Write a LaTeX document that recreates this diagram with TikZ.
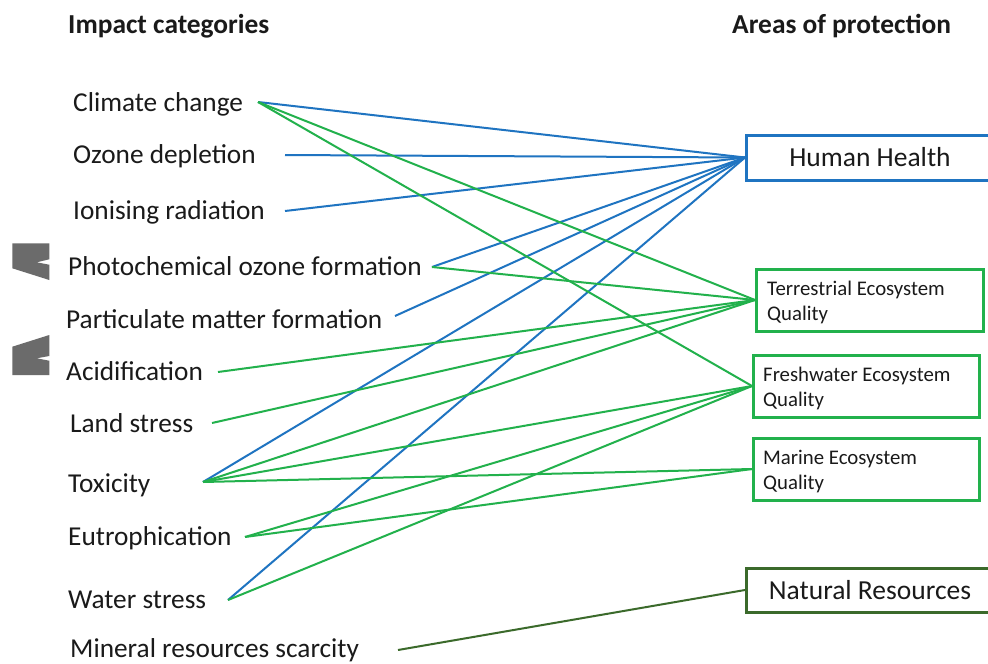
\documentclass[tikz,border=0pt]{standalone}
\usepackage{fontspec}
\setmainfont{Carlito}
\definecolor{lblue}{HTML}{1F74C1}
\definecolor{lgreen}{HTML}{22B14C}
\definecolor{dgreen}{HTML}{3B6A2B}
\definecolor{gshape}{HTML}{6B6B6B}
\definecolor{txt}{HTML}{1A1A1A}
\begin{document}
\begin{tikzpicture}[x=1pt,y=-1pt,
  lab/.style={anchor=base west,inner sep=0pt,font=\fontsize{27.3}{32}\selectfont,text=txt},
  head/.style={anchor=base west,inner sep=0pt,font=\bfseries\fontsize{27.4}{32}\selectfont,text=txt},
  small/.style={anchor=base west,inner sep=0pt,font=\fontsize{20.8}{24}\selectfont,text=txt},
  big/.style={anchor=center,inner sep=0pt,font=\fontsize{27.5}{32}\selectfont,text=txt},
  bl/.style={draw=lblue,line width=2pt},
  gl/.style={draw=lgreen,line width=2pt},
  nl/.style={draw=dgreen,line width=2pt},
  hbox/.style={draw=lblue,line width=3pt,rectangle,inner sep=0pt,anchor=west,minimum width=250pt,minimum height=45pt},
  ebox/.style={draw=lgreen,line width=3pt,rectangle,inner sep=0pt,anchor=west,minimum height=62pt},
  rbox/.style={draw=dgreen,line width=3pt,rectangle,inner sep=0pt,anchor=west,minimum width=250pt,minimum height=44pt}]
\useasboundingbox (0,0) rectangle (988,664);
\clip (0,0) rectangle (988,664);
\fill[white] (0,0) rectangle (988,664);

% grey shapes
\fill[gshape] (12.3,243.3) -- (49.3,243.3) -- (49.3,259.3) -- (36.7,262.3) -- (49.3,264.7) -- (49.3,280) -- (12.3,268.3) -- cycle;
\fill[gshape] (12.3,375) -- (49.3,375) -- (49.3,360.7) -- (36.7,358.3) -- (49.3,356) -- (49.3,335) -- (12.3,346.7) -- cycle;

% headers
\node[head] (h1) at (68,33) {Impact categories};
\node[head] (h2) at (732,33) {Areas of protection};

% impact labels
\node[lab] (l1) at (73,111) {Climate change};
\node[lab] (l2) at (73,163) {Ozone depletion};
\node[lab] (l3) at (73,219) {Ionising radiation};
\node[lab] (l4) at (68,275) {Photochemical ozone formation};
\node[lab] (l5) at (66,328) {Particulate matter formation};
\node[lab] (l6) at (66,380) {Acidification};
\node[lab] (l7) at (70,432) {Land stress};
\node[lab] (l8) at (68,492) {Toxicity};
\node[lab] (l9) at (68,545) {Eutrophication};
\node[lab] (l10) at (68,608) {Water stress};
\node[lab] (l11) at (70,657) {Mineral resources scarcity};

% connector start points
\coordinate (c1) at (258,102);
\coordinate (c2) at (285,155);
\coordinate (c3) at (285,211);
\coordinate (c4) at (432,267);
\coordinate (c5) at (395,316);
\coordinate (c6) at (218,372);
\coordinate (c7) at (212,423);
\coordinate (c8) at (203,482);
\coordinate (c9) at (245,537);
\coordinate (c10) at (228,600);
\coordinate (c11) at (398,650);

% boxes
\node[hbox] (hh) at (745,157.5) {};
\node[big] (hht) at (870,157.5) {Human Health};
\node[ebox,minimum width=227pt] (te) at (755,300) {};
\node[ebox,minimum width=226pt] (fw) at (752,386) {};
\node[ebox,minimum width=226pt] (ma) at (752,469) {};
\node[rbox] (nr) at (745,590) {};
\node[big] (nrt) at (870,590) {Natural Resources};
\node[small] (tet1) at (767,295) {Terrestrial Ecosystem};
\node[small] (tet2) at (767,320) {Quality};
\node[small] (fwt1) at (763,381) {Freshwater Ecosystem};
\node[small] (fwt2) at (763,406) {Quality};
\node[small] (mat1) at (763,464) {Marine Ecosystem};
\node[small] (mat2) at (763,489) {Quality};

% human health
\draw[bl] (c1) -- (hh.west);
\draw[bl] (c2) -- (hh.west);
\draw[bl] (c3) -- (hh.west);
\draw[bl] (c4) -- (hh.west);
\draw[bl] (c5) -- (hh.west);
\draw[bl] (c8) -- (hh.west);
\draw[bl] (c10) -- (hh.west);
% terrestrial
\draw[gl] (c1) -- (te.west);
\draw[gl] (c4) -- (te.west);
\draw[gl] (c6) -- (te.west);
\draw[gl] (c7) -- (te.west);
\draw[gl] (c8) -- (te.west);
% freshwater
\draw[gl] (c1) -- (fw.west);
\draw[gl] (c8) -- (fw.west);
\draw[gl] (c9) -- (fw.west);
\draw[gl] (c10) -- (fw.west);
% marine
\draw[gl] (c8) -- (ma.west);
\draw[gl] (c9) -- (ma.west);
% natural resources
\draw[nl] (c11) -- (nr.west);
\end{tikzpicture}
\end{document}
